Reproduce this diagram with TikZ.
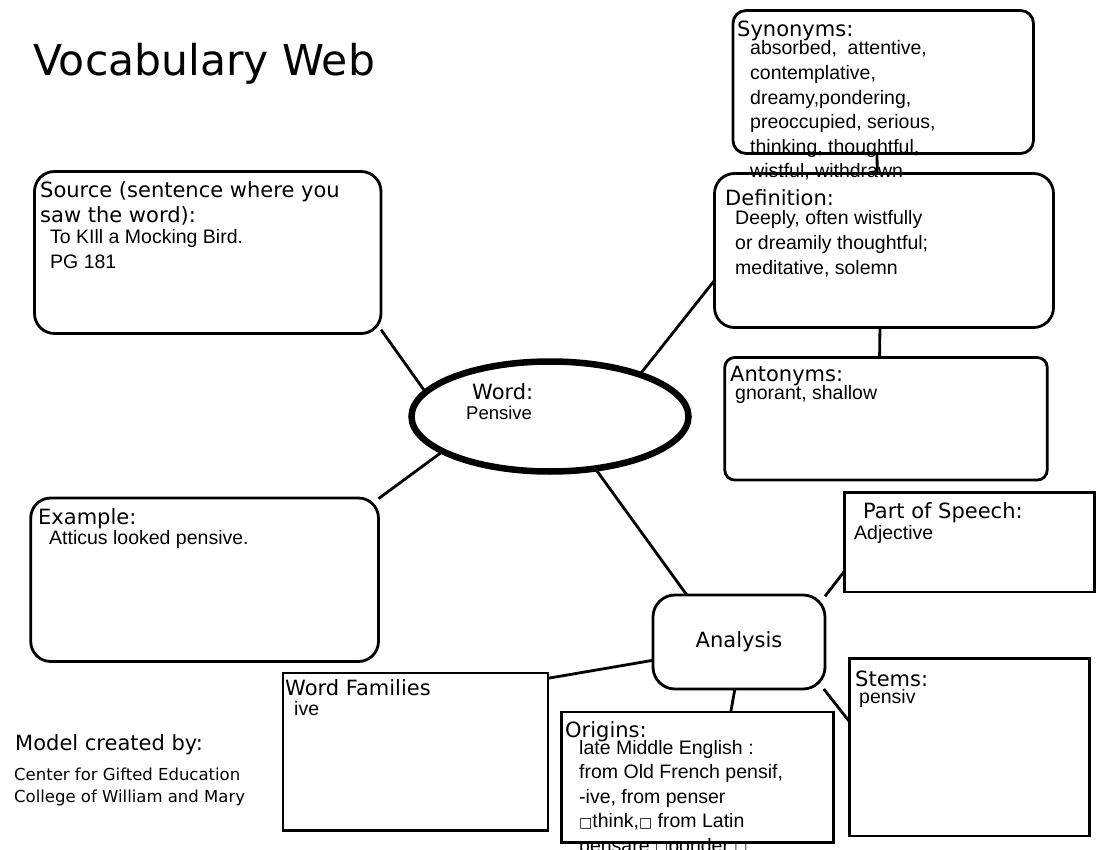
\documentclass[tikz,border=0pt]{standalone}
\usepackage{fontspec}
\setmainfont{DejaVu Sans}
\newfontfamily\bodyfont{Liberation Sans}
\newfontfamily\symfont{DejaVu Sans}
\usetikzlibrary{shapes.geometric}
\newcommand{\tofu}{{\symfont\fontsize{14}{14}\selectfont □}}
\begin{document}
\begin{tikzpicture}[x=1pt,y=-1pt,
    box/.style={draw,line width=2.8pt,inner sep=0pt,outer sep=0pt},
    rbox/.style={box,rounded corners=#1},
    rbox/.default=20pt,
    hd/.style={anchor=base west,inner sep=0pt,align=left,font=\fontsize{21}{25.5}\selectfont},
    txt/.style={anchor=base west,inner sep=0pt,align=left,font=\bodyfont\fontsize{19.5}{24.6}\selectfont},
    link/.style={line width=2.8pt}]
    \useasboundingbox (0,0) rectangle (1100,850);

    \node[anchor=base west,inner sep=0pt,font=\fontsize{42.5}{50}\selectfont] (title) at (33,76) {Vocabulary Web};

    % boxes
    \node[rbox=13pt,minimum width=300.5pt,minimum height=143pt] (syn) at (883.25,82) {};
    \node[rbox,minimum width=339pt,minimum height=154pt] (def) at (884,250.5) {};
    \node[rbox=10pt,minimum width=322.5pt,minimum height=122.5pt] (ant) at (886,418.75) {};
    \node[rbox,minimum width=346.5pt,minimum height=162pt] (src) at (207.75,252.5) {};
    \node[rbox,minimum width=347.7pt,minimum height=163.5pt] (ex) at (204.6,579.75) {};
    \node[draw,ellipse,line width=6.5pt,inner sep=0pt,outer sep=0pt,minimum width=277pt,minimum height=110pt] (word) at (550,416.5) {};
    \node[rbox=22pt,minimum width=172pt,minimum height=94pt,font=\fontsize{21}{25}\selectfont] (ana) at (739,642) {Analysis};
    \node[box,minimum width=250pt,minimum height=99.5pt] (pos) at (969.5,542.25) {};
    \node[box,minimum width=240pt,minimum height=177.5pt] (stm) at (969.5,747.25) {};
    \node[box,minimum width=265pt,minimum height=157.5pt] (wf) at (415.5,751.75) {};
    \node[box,minimum width=272pt,minimum height=130.5pt] (ori) at (697.5,777.25) {};

    % connectors
    \draw[link] (syn.265) -- (def.95);
    \draw[link] (def.267) -- (ant.96);
    \draw[link] (src.-24) -- (word.169);
    \draw[link] (ex.25) -- (word.198);
    \draw[link] (word.25) -- (def.190);
    \draw[link] (word.-49) -- (ana.138);
    \draw[link] (ana.28) -- (pos.193);
    \draw[link] (ana.192) -- (wf.29);
    \draw[link] (ana.265) -- (ori.63);
    \draw[link] (ana.-29) -- (stm.168);

    % texts (multi-line ones sit on their last baseline)
    \node[hd] (synhd) at (737,36.5) {Synonyms:};
    \node[txt] (syntx) at (750,178) {absorbed,\ \ attentive,\\contemplative,\\dreamy,pondering,\\preoccupied, serious,\\thinking, thoughtful,\\wistful, withdrawn};
    \node[hd] (defhd) at (725,206) {Definition:};
    \node[txt] (deftx) at (735,274.2) {Deeply, often wistfully\\or dreamily thoughtful;\\meditative, solemn};
    \node[hd] (anthd) at (730,381.5) {Antonyms:};
    \node[txt] (anttx) at (735,399) {gnorant, shallow};
    \node[hd] (srchd) at (40,222.8) {Source (sentence where you\\saw the word):};
    \node[txt] (srctx) at (50,268.2) {To KIll a Mocking Bird.\\PG 181};
    \node[hd] (exhd) at (38,524) {Example:};
    \node[txt] (extx) at (49,544) {Atticus looked pensive.};
    \node[hd] (wordhd) at (472,399) {Word:};
    \node[txt,font=\bodyfont\fontsize{18.5}{22}\selectfont] (wordtx) at (466,419) {Pensive};
    \node[hd] (poshd) at (863,518) {Part of Speech:};
    \node[txt] (postx) at (854,539) {Adjective};
    \node[hd] (stmhd) at (855,686.7) {Stems:};
    \node[txt] (stmtx) at (859,703) {pensiv};
    \node[hd] (wfhd) at (285,695) {Word Families};
    \node[txt] (wftx) at (294,715) {ive};
    \node[hd] (orihd) at (565,737) {Origins:};
    \node[txt] (oritx) at (579,852.4) {late Middle English :\\from Old French pensif,\\-ive, from penser\\\tofu think,\tofu\ from Latin\\pensare \tofu ponder \tofu};

    \node[hd] (model) at (15,750) {Model created by:};
    \node[anchor=base west,inner sep=0pt,align=left,font=\fontsize{16.5}{22}\selectfont] (credit) at (14,802.7) {Center for Gifted Education\\College of William and Mary};
\end{tikzpicture}
\end{document}
